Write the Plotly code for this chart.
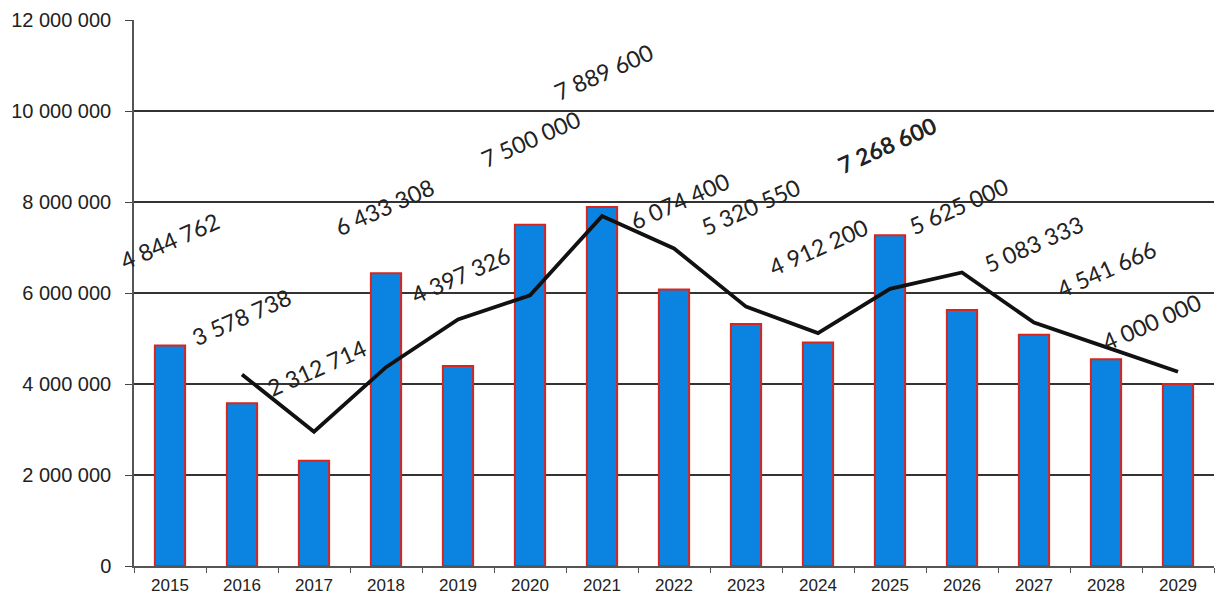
import plotly.graph_objects as go

years = ["2015", "2016", "2017", "2018", "2019", "2020", "2021", "2022",
         "2023", "2024", "2025", "2026", "2027", "2028", "2029"]
bar_values = [4844762, 3578738, 2312714, 6433308, 4397326, 7500000, 7889600,
              6074400, 5320550, 4912200, 7268600, 5625000, 5083333, 4541666, 4000000]
line_years = years[1:]
line_values = [4210000, 2950000, 4370000, 5420000, 5950000, 7690000, 6980000,
               5700000, 5120000, 6090000, 6450000, 5350000, 4810000, 4270000]
y_ticks = [0, 2000000, 4000000, 6000000, 8000000, 10000000, 12000000]
y_tick_text = ["0", "2 000 000", "4 000 000", "6 000 000", "8 000 000",
               "10 000 000", "12 000 000"]
bold_label = "2025"

# label placement (pixel offsets from bar top) - style only
label_dy = [105, 86, 93, 66, 91, 86, 135, 89, 117, 95, 90, 104, 91, 90, 62]
label_dx = [-1, -1, 2, -2, 2, 0, 1, 5, 4, 0, -3, -4, -1, 0, -27]


def fmt(v):
    return f"{v:,}".replace(",", " ")


fig = go.Figure()
fig.add_trace(go.Bar(
    x=years, y=bar_values, width=0.42,
    marker=dict(color="#0A84E0", line=dict(color="#D8261E", width=2)),
    showlegend=False, hoverinfo="skip",
))
fig.add_trace(go.Scatter(
    x=line_years, y=line_values, mode="lines",
    line=dict(color="#111111", width=3.8),
    showlegend=False, hoverinfo="skip",
))

for i, (yr, v) in enumerate(zip(years, bar_values)):
    txt = fmt(v)
    if yr == bold_label:
        txt = f"<b>{txt}</b>"
    fig.add_annotation(
        x=i, y=v, xref="x", yref="y", text=txt, showarrow=False, textangle=-24,
        xanchor="center", yanchor="middle",
        xshift=label_dx[i], yshift=label_dy[i],
        font=dict(family="Lato, sans-serif", size=23, color="#222222"),
    )

fig.update_layout(
    width=1221, height=598,
    margin=dict(l=134, r=7, t=20, b=32),
    paper_bgcolor="white", plot_bgcolor="white",
    font=dict(family="Liberation Sans, Arial, sans-serif", color="#222222"),
)
fig.update_xaxes(
    type="category", range=[-0.5, 14.5], automargin=False,
    showline=True, linecolor="#555555", linewidth=1.5,
    ticks="outside", tickson="boundaries", ticklen=5, tickcolor="#555555",
    showgrid=False, ticklabelstandoff=3,
    tickfont=dict(size=17, family="Liberation Sans, Arial, sans-serif"),
)
fig.update_yaxes(
    range=[0, 12000000], tickvals=y_ticks, ticktext=y_tick_text,
    automargin=False,
    showline=True, linecolor="#555555", linewidth=1.5,
    ticks="outside", ticklen=7, tickcolor="#444444",
    showgrid=True, gridcolor="#333333", gridwidth=1.5,
    zeroline=False, ticklabelstandoff=10,
    tickfont=dict(size=20, family="Liberation Sans, Arial, sans-serif"),
)

fig.write_html("out.html")
